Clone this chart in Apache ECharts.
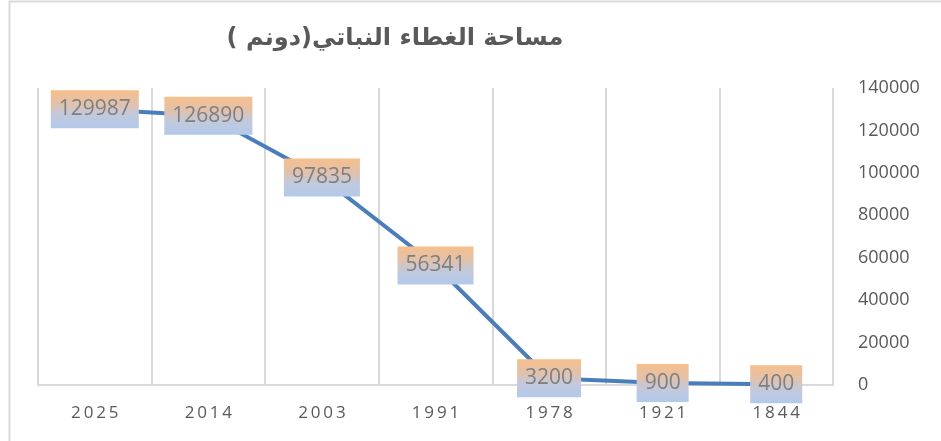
<!DOCTYPE html>
<html>
<head>
<meta charset="utf-8">
<script src="https://cdn.jsdelivr.net/npm/echarts@6/dist/echarts.min.js"></script>
<style>
html,body{margin:0;padding:0;background:#fff;}
#chart{width:941px;height:441px;}
</style>
</head>
<body>
<div id="chart"></div>
<script>
var years = ['2025', '2014', '2003', '1991', '1978', '1921', '1844'];
var area = [129987, 126890, 97835, 56341, 3200, 900, 400];
var titleText = 'مساحة الغطاء النباتي(دونم )';

var chart = echarts.init(document.getElementById('chart'));
var option = {
    backgroundColor: '#fff',
    title: {
        text: titleText,
        left: 390,
        top: 22,
        textAlign: 'center',
        textStyle: {
            fontFamily: 'DejaVu Sans',
            fontWeight: 'bold',
            fontSize: 24,
            color: '#595959'
        }
    },
    graphic: [
        { type: 'line', shape: { x1: 9.5, y1: 1, x2: 9.5, y2: 441 }, style: { stroke: '#d9d9d9', lineWidth: 2 } },
        { type: 'line', shape: { x1: 9, y1: 1.5, x2: 941, y2: 1.5 }, style: { stroke: '#d9d9d9', lineWidth: 2 } }
    ],
    grid: { left: 38, right: 108, top: 88, bottom: 56 },
    xAxis: {
        type: 'category',
        data: years,
        boundaryGap: true,
        axisLine: { lineStyle: { color: '#d9d9d9', width: 2 } },
        axisTick: { show: false },
        splitLine: { show: true, lineStyle: { color: '#d9d9d9', width: 2 } },
        axisLabel: {
            margin: 20,
            fontFamily: 'Open Sans',
            fontSize: 17,
            color: '#595959',
            formatter: function (v) { return v.split('').join('\u2009'); }
        }
    },
    yAxis: {
        type: 'value',
        position: 'right',
        min: 0,
        max: 140000,
        interval: 20000,
        axisLine: { show: false },
        axisTick: { show: false },
        splitLine: { show: false },
        axisLabel: {
            margin: 25,
            fontFamily: 'Open Sans',
            fontSize: 18,
            color: '#595959',
            formatter: function (v) { return String(v); }
        }
    },
    series: [{
        type: 'line',
        data: area,
        symbol: 'circle',
        symbolSize: 3,
        showSymbol: true,
        itemStyle: { color: '#4a7ebb' },
        lineStyle: { color: '#4a7ebb', width: 4 },
        labelLayout: { hideOverlap: false },
        label: {
            show: true,
            position: 'inside',
            fontFamily: 'Open Sans',
            fontSize: 21,
            color: '#7f7f7f',
            padding: [9, 8, 8, 8],
            backgroundColor: {
                type: 'linear', x: 0, y: 0, x2: 0, y2: 1,
                colorStops: [
                    { offset: 0, color: '#f7bf8c' },
                    { offset: 0.35, color: '#e2c1aa' },
                    { offset: 0.65, color: '#c1c9dd' },
                    { offset: 1, color: '#b3c9ea' }
                ]
            }
        }
    }]
};
chart.setOption(option);
</script>
</body>
</html>
